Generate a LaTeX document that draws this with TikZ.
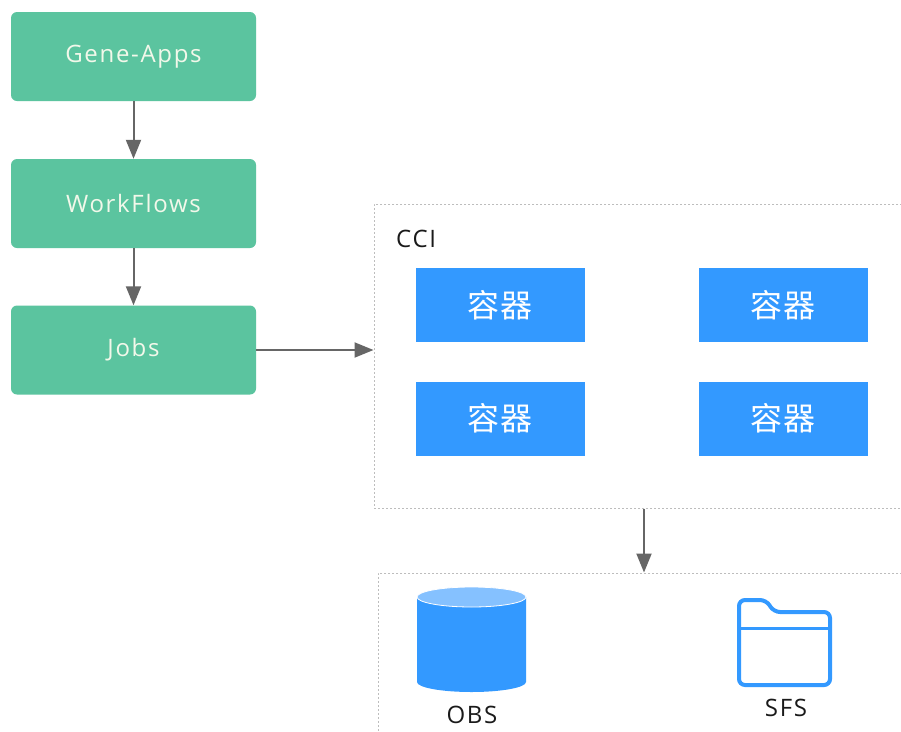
\documentclass[tikz,border=0pt]{standalone}
\usepackage{fontspec}
\newfontfamily\lblfont{Open Sans}[LetterSpace=7]
\newfontfamily\cjkfont{Noto Sans CJK SC}[LetterSpace=5]
\usetikzlibrary{arrows.meta}
\definecolor{gboxfill}{HTML}{5BC49F}
\definecolor{gboxtext}{HTML}{F2F8EA}
\definecolor{bboxfill}{HTML}{3399FF}
\definecolor{cyltop}{HTML}{85C1FF}
\definecolor{arrgray}{HTML}{666666}
\definecolor{framegray}{HTML}{BDBDBD}
\definecolor{lbltext}{HTML}{1A1A1A}
\tikzset{
  greenbox/.style={rounded corners=6pt, fill=gboxfill, text=gboxtext,
    minimum width=245pt, minimum height=89pt, inner sep=0pt,
    font=\lblfont\fontsize{24}{28}\selectfont},
  bluebox/.style={fill=bboxfill, text=white, minimum width=169pt,
    minimum height=74pt, inner sep=0pt,
    font=\cjkfont\fontsize{32}{38}\selectfont},
  arr/.style={draw=arrgray, line width=2pt,
    -{Triangle[length=19pt,width=15pt]}},
  framebox/.style={draw=framegray, dash pattern=on 2pt off 2pt,
    line width=1pt, inner sep=0pt},
  lbl/.style={text=lbltext, inner sep=0pt,
    font=\lblfont\fontsize{24}{28}\selectfont}
}
\begin{document}
\begin{tikzpicture}[x=1pt,y=-1pt]
\clip (0,0) rectangle (901,731);
\fill[white] (0,0) rectangle (901,731);

% left column
\node[greenbox] (gene) at (133.5,56.5) {Gene-Apps};
\node[greenbox] (wf) at (133.5,203.5) {WorkFlows};
\node[greenbox] (jobs) at (133.5,350) {Jobs};

% CCI frame
\node[framebox, minimum width=540pt, minimum height=304pt] (cci) at (644,356) {};
\node[lbl, anchor=base west] (ccilbl) at (396,247) {CCI};
\node[bluebox] (c1) at (500,305) {容器};
\node[bluebox] (c2) at (783,305) {容器};
\node[bluebox] (c3) at (500,418.5) {容器};
\node[bluebox] (c4) at (783,418.5) {容器};

% storage frame
\node[framebox, minimum width=540pt, minimum height=180pt] (store) at (648,663) {};

% OBS cylinder
\fill[bboxfill] (417,597) -- (417,682)
  arc[start angle=180, end angle=0, x radius=54.5, y radius=10] -- (526,597) -- cycle;
\filldraw[fill=cyltop, draw=white, line width=0.8pt] (471.5,597) ellipse [x radius=54.5, y radius=10];
\node[lbl, anchor=base] (obs) at (472,723) {OBS};

% SFS folder
\draw[bboxfill, line width=4pt, rounded corners=6pt]
  (739,685) -- (739,600) -- (766,600) -- (774,612) -- (830,612) -- (830,685) -- cycle;
\draw[bboxfill, line width=3pt] (739,628) -- (830,628);
\node[lbl, anchor=base] (sfs) at (786,716) {SFS};

% connectors
\draw[arr] (gene) -- (wf);
\draw[arr] (wf) -- (jobs);
\draw[arr] (jobs.east) -- (jobs.east -| cci.west);
\draw[arr] (cci.south) -- (cci.south |- store.north);
\end{tikzpicture}
\end{document}
